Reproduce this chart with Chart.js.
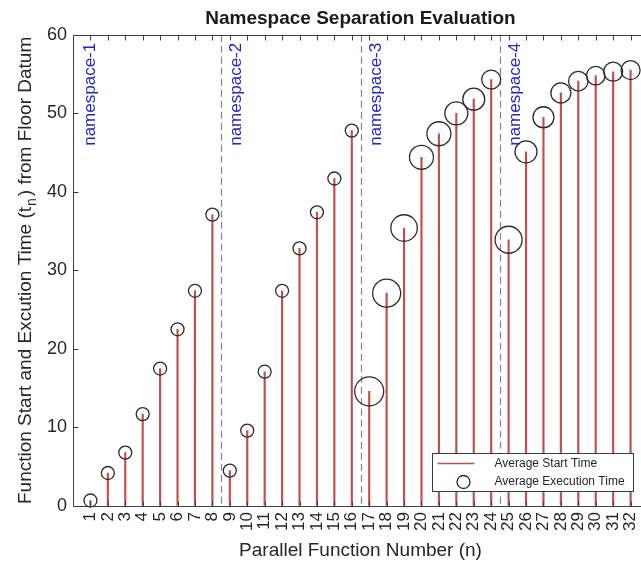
<!DOCTYPE html>
<html>
<head>
<meta charset="utf-8">
<script src="https://cdn.jsdelivr.net/npm/chart.js@4.4.0/dist/chart.umd.min.js"></script>
<style>
html, body { margin: 0; padding: 0; overflow: hidden; background: #fff; }
#myChart { display: block; }
</style>
</head>
<body>
<canvas id="myChart" width="652" height="564"></canvas>
<script>
// Parallel function numbers (x)
const functionNumbers = [1, 2, 3, 4, 5, 6, 7, 8, 9, 10, 11, 12, 13, 14, 15, 16,
    17, 18, 19, 20, 21, 22, 23, 24, 25, 26, 27, 28, 29, 30, 31, 32];

// Average start time (stem height / circle centre)
const avgStartTime = [0.7, 4.2, 6.8, 11.7, 17.5, 22.5, 27.4, 37.1,
    4.5, 9.6, 17.1, 27.4, 32.8, 37.4, 41.7, 47.8,
    14.6, 27.1, 35.4, 44.4, 47.4, 50.0, 51.8, 54.3,
    33.9, 45.1, 49.5, 52.6, 54.1, 54.8, 55.3, 55.5];

// Average execution time (shown as circle size, relative units)
const avgExecTime = [1.3, 1.3, 1.3, 1.3, 1.3, 1.3, 1.3, 1.3,
    1.3, 1.3, 1.3, 1.3, 1.3, 1.3, 1.3, 1.3,
    2.9, 2.8, 2.65, 2.4, 2.4, 2.3, 2.2, 1.9,
    2.7, 2.2, 2.1, 2.0, 1.95, 1.85, 1.9, 1.9];

// Namespace boundaries and labels
const namespaceBounds = [8.5, 16.5, 24.5];
const namespaceLabels = ['namespace-1', 'namespace-2', 'namespace-3', 'namespace-4'];
const namespaceLabelX = [1, 9.4, 17.4, 25.4];

const FONT = "'Liberation Sans', Arial, Helvetica, sans-serif";
const TEXT = '#262626';
const STEM = '#c0504d';
const CIRCLE = '#2b2b2b';
const AXIS = '#3c3c4c';

Chart.defaults.font.family = FONT;
Chart.defaults.color = TEXT;

const decorations = {
    id: 'decorations',
    beforeDatasetsDraw(chart) {
        const { ctx, chartArea: a, scales: { x } } = chart;
        ctx.save();
        // dashed separators between namespaces
        ctx.strokeStyle = '#7d82aa';
        ctx.lineWidth = 1.2;
        ctx.setLineDash([7, 4]);
        namespaceBounds.forEach(b => {
            const px = Math.round(x.getPixelForValue(b)) + 0.5;
            ctx.beginPath();
            ctx.moveTo(px, a.top);
            ctx.lineTo(px, a.bottom);
            ctx.stroke();
        });
        ctx.restore();
    },
    afterDatasetsDraw(chart) {
        const { ctx, chartArea: a, scales: { x, y } } = chart;
        ctx.save();
        // namespace labels (vertical, blue)
        ctx.fillStyle = '#2424c8';
        ctx.font = '17px ' + FONT;
        ctx.textAlign = 'right';
        ctx.textBaseline = 'middle';
        namespaceLabels.forEach((lbl, i) => {
            ctx.save();
            ctx.translate(x.getPixelForValue(namespaceLabelX[i]), a.top + 8);
            ctx.rotate(-Math.PI / 2);
            ctx.fillText(lbl, 0, 0);
            ctx.restore();
        });

        // axes frame with inward ticks
        ctx.strokeStyle = AXIS;
        ctx.lineWidth = 1;
        const L = Math.round(a.left) + 0.5, R = Math.round(a.right) + 0.5;
        const T = Math.round(a.top) + 0.5, B = Math.round(a.bottom) + 0.5;
        ctx.beginPath();
        ctx.moveTo(L, T); ctx.lineTo(L, B); ctx.lineTo(R, B); ctx.lineTo(R, T); ctx.closePath();
        ctx.stroke();
        ctx.beginPath();
        x.ticks.forEach(t => {
            const px = Math.round(x.getPixelForValue(t.value)) + 0.5;
            ctx.moveTo(px, B); ctx.lineTo(px, B - 5);
            ctx.moveTo(px, T); ctx.lineTo(px, T + 5);
        });
        y.ticks.forEach(t => {
            const py = Math.round(y.getPixelForValue(t.value)) + 0.5;
            ctx.moveTo(L, py); ctx.lineTo(L + 5, py);
            ctx.moveTo(R, py); ctx.lineTo(R - 5, py);
        });
        ctx.stroke();
        ctx.restore();
    },
    afterDraw(chart) {
        const { ctx, chartArea: a } = chart;
        ctx.save();

        // y axis title with subscript n
        const p1 = 'Function Start and Excution Time (t';
        const sub = 'n';
        const p2 = ') from Floor Datum';
        const mainFont = '19px ' + FONT;
        const subFont = '14px ' + FONT;
        ctx.font = mainFont;
        const w1 = ctx.measureText(p1).width;
        const w2 = ctx.measureText(p2).width;
        ctx.font = subFont;
        const ws = ctx.measureText(sub).width + 3;
        const total = w1 + ws + w2;
        ctx.translate(31, (a.top + a.bottom) / 2);
        ctx.rotate(-Math.PI / 2);
        ctx.fillStyle = TEXT;
        ctx.textAlign = 'left';
        ctx.textBaseline = 'alphabetic';
        let cx = -total / 2;
        ctx.font = mainFont;
        ctx.fillText(p1, cx, 0);
        cx += w1 + 1;
        ctx.font = subFont;
        ctx.fillText(sub, cx, 5);
        cx += ws - 1;
        ctx.font = mainFont;
        ctx.fillText(p2, cx, 0);
        ctx.setTransform(1, 0, 0, 1, 0, 0);

        // legend box
        const bw = 201, bh = 38;
        const bx = Math.round(a.right - 15 - bw) + 0.5;
        const by = Math.round(a.bottom - 15 - bh) + 0.5;
        ctx.fillStyle = '#fff';
        ctx.fillRect(bx, by, bw, bh);
        ctx.strokeStyle = '#3a3a3a';
        ctx.lineWidth = 1;
        ctx.strokeRect(bx, by, bw, bh);
        ctx.strokeStyle = STEM;
        ctx.lineWidth = 1.5;
        ctx.beginPath();
        ctx.moveTo(bx + 5, by + 10);
        ctx.lineTo(bx + 42, by + 10);
        ctx.stroke();
        ctx.strokeStyle = CIRCLE;
        ctx.lineWidth = 1.3;
        ctx.beginPath();
        ctx.arc(bx + 31, by + 28.5, 6.5, 0, Math.PI * 2);
        ctx.stroke();
        ctx.fillStyle = TEXT;
        ctx.font = '12px ' + FONT;
        ctx.textAlign = 'left';
        ctx.textBaseline = 'middle';
        ctx.fillText('Average Start Time', bx + 62, by + 10);
        ctx.fillText('Average Execution Time', bx + 62, by + 28);
        ctx.restore();
    }
};

const points = functionNumbers.map((n, i) => ({ x: n, y: avgStartTime[i] }));

const hiddenGrid = { display: true, drawOnChartArea: false, drawTicks: false, color: 'rgba(0,0,0,0)' };

const ctx = document.getElementById('myChart').getContext('2d');
const chart = new Chart(ctx, {
    type: 'bar',
    data: {
        datasets: [
            {
                type: 'scatter',
                label: 'Average Execution Time',
                data: points,
                pointRadius: avgExecTime.map(t => t * 5),
                pointBorderColor: CIRCLE,
                pointBackgroundColor: 'rgba(0,0,0,0)',
                pointBorderWidth: 1.3,
                clip: false,
                order: 0,
            },
            {
                type: 'bar',
                label: 'Average Start Time',
                data: points,
                backgroundColor: STEM,
                barThickness: 1.5,
                order: 1,
            }
        ]
    },
    options: {
        responsive: false,
        devicePixelRatio: 1,
        animation: false,
        events: [],
        layout: { autoPadding: false, padding: { top: 0, right: 4, left: 0, bottom: 0 } },
        plugins: {
            legend: { display: false },
            tooltip: { enabled: false },
            title: {
                display: true,
                fullSize: false,
                text: 'Namespace Separation Evaluation',
                color: '#1a1a1a',
                font: { size: 19, weight: 'bold' },
                padding: { top: 7, bottom: 5 },
            },
        },
        scales: {
            x: {
                type: 'linear',
                min: 0,
                max: 33,
                offset: false,
                grid: hiddenGrid,
                border: { display: false },
                ticks: {
                    stepSize: 1,
                    autoSkip: false,
                    minRotation: 90,
                    maxRotation: 90,
                    padding: 6,
                    color: TEXT,
                    font: { size: 17 },
                },
                title: {
                    display: true,
                    text: 'Parallel Function Number (n)',
                    color: TEXT,
                    font: { size: 19 },
                    padding: { top: 0, bottom: 2 },
                },
                afterBuildTicks: s => {
                    s.ticks = s.ticks.filter(t => t.value >= 1 && t.value <= 32);
                },
                afterFit: s => {
                    s.height = 58;
                    s.paddingLeft = 0;
                    s.paddingRight = 0;
                },
            },
            y: {
                min: 0,
                max: 60,
                grid: hiddenGrid,
                border: { display: false },
                ticks: {
                    stepSize: 10,
                    padding: 6,
                    color: TEXT,
                    font: { size: 18 },
                },
                afterFit: s => {
                    s.width = 73;
                    s.paddingTop = 0;
                    s.paddingBottom = 0;
                },
            },
        },
    },
    plugins: [decorations],
});
</script>
</body>
</html>
